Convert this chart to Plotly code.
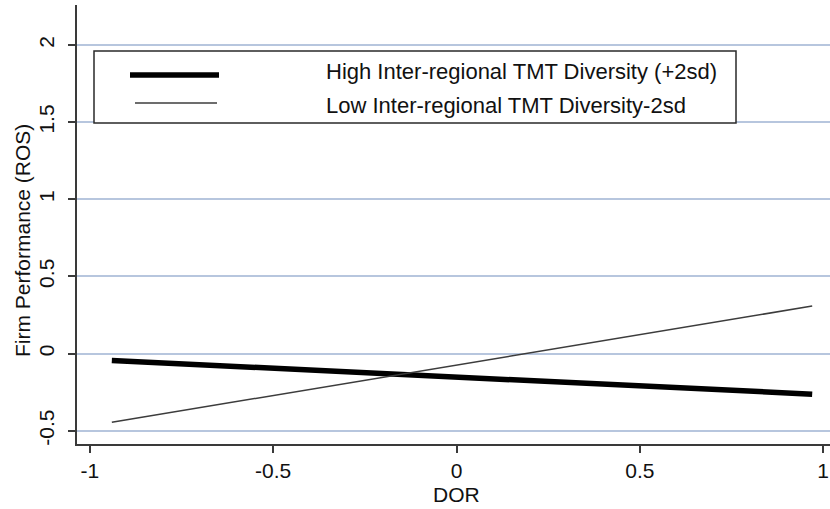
import plotly.graph_objects as go

# Data
dor = [-0.94, 0.97]
high_diversity = [-0.045, -0.263]
low_diversity = [-0.445, 0.308]
series_names = ["High Inter-regional TMT Diversity (+2sd)", "Low Inter-regional TMT Diversity-2sd"]
x_ticks = [-1, -0.5, 0, 0.5, 1]
x_tick_labels = ["-1", "-0.5", "0", "0.5", "1"]
y_ticks = [-0.5, 0, 0.5, 1, 1.5, 2]
y_tick_labels = ["-0.5", "0", "0.5", "1", "1.5", "2"]

FONT = "Liberation Sans, Arial, sans-serif"
TXT = "#111111"
AX = "#3a3a3a"
GRID = "#b7c6de"

fig = go.Figure()
fig.add_trace(go.Scatter(x=dor, y=high_diversity, mode="lines", name=series_names[0],
                         line=dict(color="#000000", width=5.5), showlegend=False))
fig.add_trace(go.Scatter(x=dor, y=low_diversity, mode="lines", name=series_names[1],
                         line=dict(color="#3c3c3c", width=1.5), showlegend=False))

W, H = 830, 509
L, R, T, B = 77, 0, 5, 65
pw, ph = W - L - R, H - T - B

def px(xp):
    return (xp - L) / pw

def py(yp):
    return 1 - (yp - T) / ph

shapes = [
    # legend box
    dict(type="rect", xref="paper", yref="paper", x0=px(94), x1=px(736), y0=py(123), y1=py(51),
         line=dict(color="#2a2a2a", width=1.5), fillcolor="white", layer="above"),
    dict(type="line", xref="paper", yref="paper", x0=px(130), x1=px(219), y0=py(75), y1=py(75),
         line=dict(color="#000000", width=5.5), layer="above"),
    dict(type="line", xref="paper", yref="paper", x0=px(135), x1=px(217), y0=py(103), y1=py(103),
         line=dict(color="#3c3c3c", width=1.5), layer="above"),
]

annotations = [
    dict(text=series_names[0], xref="paper", yref="paper", x=px(324), y=py(72), xanchor="left",
         yanchor="middle", showarrow=False, font=dict(family=FONT, size=22, color=TXT)),
    dict(text=series_names[1], xref="paper", yref="paper", x=px(324), y=py(105), xanchor="left",
         yanchor="middle", showarrow=False, font=dict(family=FONT, size=22, color=TXT)),
    dict(text="Firm Performance (ROS)", xref="paper", yref="paper", x=px(22), y=py(241),
         xanchor="center", yanchor="middle", textangle=-90, showarrow=False,
         font=dict(family=FONT, size=21, color=TXT)),
    dict(text="DOR", xref="paper", yref="paper", x=px(456), y=py(494),
         xanchor="center", yanchor="middle", showarrow=False,
         font=dict(family=FONT, size=21, color=TXT)),
]

fig.update_layout(
    width=W, height=H,
    margin=dict(l=L, r=R, t=T, b=B, pad=0),
    paper_bgcolor="white", plot_bgcolor="white",
    font=dict(family=FONT, color=TXT),
    shapes=shapes, annotations=annotations,
    xaxis=dict(range=[-1.035, 1.0186], tickvals=x_ticks, ticktext=x_tick_labels,
               showgrid=False, zeroline=False, showline=True, linecolor=AX, linewidth=2,
               ticks="outside", ticklen=7, tickwidth=1.5, tickcolor=AX, automargin=False,
               tickfont=dict(family=FONT, size=21, color=TXT)),
    yaxis=dict(range=[-0.586, 2.259], tickvals=y_ticks, ticktext=y_tick_labels,
               showgrid=True, gridcolor=GRID, gridwidth=1.5, zeroline=False,
               showline=True, linecolor=AX, linewidth=2, automargin=False,
               ticks="outside", ticklen=7, tickwidth=1.5, tickcolor=AX, tickangle=-90,
               ticklabelstandoff=6,
               tickfont=dict(family=FONT, size=21, color=TXT)),
)

fig.write_html("out.html", config={"displayModeBar": False},
               post_script="document.body.style.margin='0';document.body.style.overflow='hidden';")
